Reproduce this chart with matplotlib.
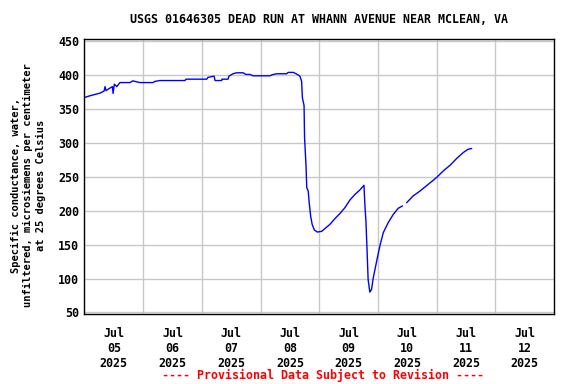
import numpy as np
import pandas as pd
import matplotlib
matplotlib.use("Agg")
import matplotlib.pyplot as plt
import matplotlib.dates as mdates

# hours after 2025-07-05 00:00 and specific conductance (uS/cm)
hours = [0.0, 2.2, 4.3, 6.3, 8.0, 8.4, 8.8, 9.7, 11.4, 11.7, 12.2, 13.2, 14.5,
         18.6, 19.8, 20.6, 22.7, 28.0, 28.8, 30.8, 41.1, 41.5, 50.0, 50.5,
         53.0, 53.4, 56.1, 56.2, 58.7, 59.1, 60.7, 62.2, 64.9, 66.0, 67.7,
         68.9, 75.9, 76.7, 78.6, 82.7, 83.3, 85.4, 86.8, 88.1, 88.8, 89.1,
         89.8, 90.0, 90.6, 90.9, 91.5, 91.9, 92.5, 93.1, 94.0, 95.2, 97.0,
         98.3, 100.4, 102.4, 104.5, 106.5, 108.6, 110.6, 112.6, 114.3, 114.7,
         115.1, 115.6, 116.0, 116.7, 117.4, 118.1, 119.5, 120.8, 122.2, 124.2,
         126.3, 128.3, 130.0, 130.9, 131.8, 134.4, 137.2, 140.6, 144.0, 146.7,
         149.5, 152.2, 154.9, 156.9, 158.3]
cond = [367, 369.5, 371.5, 373.4, 376.4, 383, 377, 379.3, 383, 373, 386.7,
        383, 389, 389, 391.6, 390.7, 389, 389, 390.7, 392, 392, 394, 394,
        396.6, 398.5, 392, 392, 394, 394, 398.5, 402, 403.4, 403.4, 401, 401,
        399, 399, 400.5, 402, 402, 404, 404, 401.5, 398.5, 391, 367, 355, 308,
        266, 234, 229, 212, 192, 180, 171.6, 168.6, 169.6, 173.6, 180, 188.3,
        196, 204.5, 216, 224, 230.6, 237.5, 207, 185, 138.5, 98.7, 80, 84,
        101, 125.7, 148, 167.7, 182.4, 194.7, 203.6, 207, np.nan, 212, 221.8,
        229, 239, 249, 258.6, 267, 277, 285.8, 290.7, 291.7]

start = pd.Timestamp("2025-07-05")
times = start + pd.to_timedelta(hours, unit="h")
y_ticks = [50, 100, 150, 200, 250, 300, 350, 400, 450]

plt.rcParams['font.family'] = 'DejaVu Sans Mono'
plt.rcParams['font.weight'] = 'bold'

fig = plt.figure(figsize=(5.76, 3.84), dpi=100)
ax = fig.add_axes([0.1467, 0.181, 0.815, 0.717])

ax.plot(times, cond, color="#0000ff", linewidth=1.0)

ax.set_xlim(start, start + pd.Timedelta(days=8))
ax.set_ylim(47, 453)
ax.set_yticks(y_ticks)

days = [start + pd.Timedelta(days=d) for d in range(9)]
noons = [d + pd.Timedelta(hours=12) for d in days[:-1]]
ax.set_xticks(noons)
ax.set_xticklabels([d.strftime("%b\n%d\n%Y") for d in noons])
ax.set_xticks(days[1:-1], minor=True)

ax.grid(False)
ax.grid(True, which="minor", axis="x", color="#c8c8c8", linewidth=1)
ax.grid(True, which="major", axis="y", color="#c8c8c8", linewidth=1)
ax.set_axisbelow(True)
ax.tick_params(axis="both", which="both", length=0, labelsize=8.4, pad=9)
ax.tick_params(axis="y", pad=4)
for sp in ax.spines.values():
    sp.set_linewidth(1.0)

fig.text(0.554, 0.948, "USGS 01646305 DEAD RUN AT WHANN AVENUE NEAR MCLEAN, VA",
         ha="center", va="center", fontsize=8.4, fontweight="bold")
fig.text(0.049, 0.518, "Specific conductance, water,\nunfiltered, microsiemens per centimeter\nat 25 degrees Celsius",
         ha="center", va="center", rotation=90, fontsize=7.5,
         fontweight="bold", linespacing=1.3)
fig.text(0.56, 0.023, "---- Provisional Data Subject to Revision ----",
         ha="center", va="center", fontsize=8.4, fontweight="bold",
         color="red")

fig.savefig("out.png", dpi=100)
